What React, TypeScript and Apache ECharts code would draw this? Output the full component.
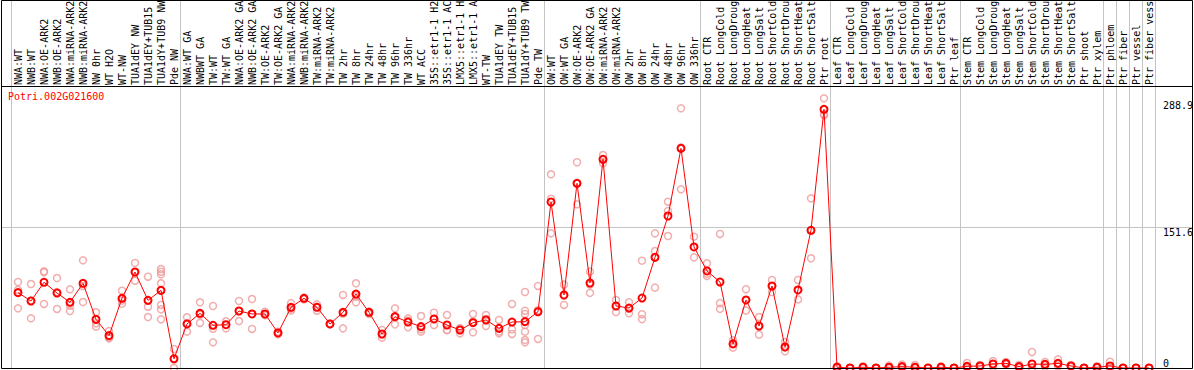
import React, { useEffect, useRef } from "react";
import * as echarts from "echarts";

const geneId = "Potri.002G021600";

const categories = [
  "NWA:WT", "NWB:WT", "NWA:OE-ARK2", "NWB:OE-ARK2", "NWA:miRNA-ARK2", "NWB:miRNA-ARK2",
  "NW 0hr", "WT H2O", "WT-NW", "TUA1dEY NW", "TUA1dEY+TUB15 NW", "TUA1dY+TUB9 NW", "Pde NW",
  "NWA:WT GA", "NWBWT GA", "TW:WT", "TW:WT GA", "NWA:OE-ARK2 GA", "NWB:OE-ARK2 GA",
  "TW:OE-ARK2", "TW:OE-ARK2 GA", "NWA:miRNA-ARK2", "NWB:miRNA-ARK2", "TW:miRNA-ARK2",
  "TW:miRNA-ARK2", "TW 2hr", "TW 8hr", "TW 24hr", "TW 48hr", "TW 96hr", "TW 336hr", "WT ACC",
  "35S::etr1-1 H2O", "35S::etr1-1 ACC", "LMX5::etr1-1 H2O", "LMX5::etr1-1 ACC", "WT-TW",
  "TUA1dEY TW", "TUA1dEY+TUB15 TW", "TUA1dY+TUB9 TW", "Pde TW",
  "OW:WT", "OW:WT GA", "OW:OE-ARK2", "OW:OE-ARK2 GA", "OW:miRNA-ARK2", "OW:miRNA-ARK2",
  "OW 2hr", "OW 8hr", "OW 24hr", "OW 48hr", "OW 96hr", "OW 336hr",
  "Root CTR", "Root LongCold", "Root LongDrought", "Root LongHeat", "Root LongSalt",
  "Root ShortCold", "Root ShortDrought", "Root ShortHeat", "Root ShortSalt", "Ptr root",
  "Leaf CTR", "Leaf LongCold", "Leaf LongDrought", "Leaf LongHeat", "Leaf LongSalt",
  "Leaf ShortCold", "Leaf ShortDrought", "Leaf ShortHeat", "Leaf ShortSalt", "Ptr leaf",
  "Stem CTR", "Stem LongCold", "Stem LongDrought", "Stem LongHeat", "Stem LongSalt",
  "Stem ShortCold", "Stem ShortDrought", "Stem ShortHeat", "Stem ShortSalt", "Ptr shoot",
  "Ptr xylem", "Ptr phloem", "Ptr fiber", "Ptr vessel", "Ptr fiber vessel",
];

// indices where a new sample group starts (group separators)
const groupBreaks = [0, 13, 41, 53, 63, 73, 84, 85, 86, 87, 88];

const meanValues = [
  81.3, 72.3, 92.5, 80.9, 70.9, 91.4, 52.5, 34.9, 75.2, 103.6, 73.0, 83.8, 10.0,
  47.5, 59.0, 46.1, 46.7, 61.5, 58.3, 58.3, 37.8, 65.5, 75.2, 65.5, 47.5, 60.1, 79.8, 60.1,
  36.7, 55.4, 49.6, 44.6, 52.9, 46.4, 41.0, 48.9, 51.8, 42.8, 49.6, 50.0, 60.7,
  179.1, 78.8, 199.3, 91.7, 225.2, 66.9, 64.7, 75.5, 119.4, 164.0, 237.0, 130.6,
  104.7, 92.8, 26.0, 73.4, 45.3, 88.5, 22.7, 84.2, 148.6, 279.1,
  0.8, 0, 0.8, 0, 0.8, 1.5, 0.8, 0, 0.8, 0,
  1.8, 2.2, 4.3, 5.0, 1.5, 4.3, 3.9, 5.0, 2.2, 0, 0.8, 2.2, 0, 0, 0,
];

const replicateValues = [
  [92.8, 84.2, 64.4], [90.6, 72.7, 53.6], [104.3, 103.3, 69.1], [97.1, 82.0, 63.7],
  [84.9, 67.2, 61.5], [116.2, 88.5, 71.2], [60.1, 48.2, 44.6], [39.9, 32.8, 32.0],
  [83.4, 72.8, 69.4], [113.3, 103.3, 94.2], [98.5, 66.1, 55.0],
  [106.8, 103.9, 101.1, 91.4, 68.0, 63.3, 52.5], [20.5, 9.5, 0],
  [54.7, 48.6, 39.2], [70.9, 57.5, 48.6], [66.9, 42.4, 27.7], [50.4, 46.9, 42.8],
  [72.3, 61.5, 50.7], [74.4, 58.4, 42.1], [60.7, 57.1, 57.1], [39.2, 37.8, 36.4],
  [70, 64, 62], [76, 75, 74], [68.7, 66, 61.8], [48, 47.5, 47], [78.8, 58.7, 42.8],
  [91.4, 77, 70.9], [61, 60, 58.3], [41.0, 36.4, 32.7], [64.4, 54.7, 47.1],
  [53.6, 51.3, 43.9], [56.1, 41.8, 39.2], [59.7, 52.6, 46.4], [57.2, 41.0, 41.0],
  [42.8, 42.8, 37.4], [58.3, 49.9, 38.5], [57.2, 52.9, 45.3], [51.8, 39.2, 37.4],
  [69.1, 41.8, 36.7], [82.0, 61.8, 58.3, 46.4, 39.2, 30.2, 27.7], [88.5, 62.3, 31.3],
  [209.0, 182.7, 145.3], [90, 78, 68], [222.0, 199.3, 176.6], [104, 90, 81],
  [229.8, 225, 220.9], [73.4, 67, 60.4], [71, 64, 59], [115.8, 58, 52.7],
  [145.3, 126.2, 86.7], [179.4, 169.4, 142.4], [280.2, 238, 192.8], [141.7, 130.7, 119.4],
  [113.0, 101.8, 99.3], [144.6, 70, 63.8], [30, 26, 22], [85, 73, 62], [55, 45, 36],
  [95, 88, 82], [28, 22, 18], [95, 84, 74], [183.1, 148.6, 118.4], [291.0, 273.7, 272.6],
  [1.9, 0.5, 0], [0, 0, 0], [1.9, 0.5, 0], [0, 0, 0], [2.6, 0, 0], [3.8, 0.7, 0],
  [3.2, 0, 0], [0, 0, 0], [1.9, 0.5, 0], [0, 0, 0],
  [5.4, 0, 0], [3.2, 2.2, 1.2], [7.5, 4.3, 1.1], [6.5, 5.0, 3.5], [3.2, 1.5, 0],
  [17.3, 0, 0], [6.5, 3.9, 1.3], [9.3, 4.0, 1.7], [3.2, 2.2, 1.2], [0, 0, 0],
  [1.9, 0.5, 0], [6.8, 0, 0], [0, 0, 0], [0, 0, 0], [0, 0, 0],
];

const yTickLabels = ["0", "151.6", "288.9"];
const yMax = 303.2;

const GRID_LEFT = 11.5;
const SLOT = 13;
const GRID_TOP = 87;
const GRID_BOTTOM = 368;
const FONT = "DejaVu Sans Mono";

export default function App() {
  const ref = useRef<HTMLDivElement>(null);

  useEffect(() => {
    document.body.style.margin = "0";
    if (!ref.current) return;
    const chart = echarts.init(ref.current, undefined, { renderer: "svg" });

    const scatterData: [number, number][] = [];
    replicateValues.forEach((reps, i) => reps.forEach((v) => scatterData.push([i, v])));

    const gridWidth = SLOT * categories.length;
    const sepLines = groupBreaks.map((k) => ({
      type: "line",
      z: 0,
      silent: true,
      shape: { x1: GRID_LEFT + SLOT * k, y1: 0, x2: GRID_LEFT + SLOT * k, y2: GRID_BOTTOM },
      style: { stroke: "#c4c4c4", lineWidth: 1 },
    }));

    const near = (a: number, b: number) => Math.abs(a - b) < 0.01;
    const yBase = {
      type: "value",
      min: 0,
      max: yMax,
      position: "right",
      axisLine: { show: false },
      axisTick: { show: false },
      splitLine: { show: false },
    };
    const lblBase = { margin: 7.5, fontFamily: FONT, fontSize: 10, color: "#000" };

    chart.setOption({
      animation: false,
      backgroundColor: "#fff",
      title: {
        text: geneId,
        left: 8,
        top: 91,
        padding: 0,
        textStyle: { color: "#ff0000", fontSize: 10, fontFamily: FONT, fontWeight: "normal" },
      },
      grid: [
        {
          left: GRID_LEFT,
          width: gridWidth,
          top: GRID_TOP,
          height: GRID_BOTTOM - GRID_TOP,
          containLabel: false,
          outerBoundsMode: "none",
        },
        {
          left: 1,
          right: 1,
          top: GRID_TOP,
          height: GRID_BOTTOM - GRID_TOP,
          containLabel: false,
          outerBoundsMode: "none",
        },
      ],
      xAxis: [
        {
          type: "category",
          gridIndex: 0,
          data: categories,
          position: "top",
          boundaryGap: true,
          axisLine: { show: false },
          axisTick: { show: false },
          splitLine: { show: false },
          axisLabel: {
            interval: 0,
            rotate: 90,
            margin: 2,
            hideOverlap: false,
            width: 88,
            overflow: "truncate",
            ellipsis: "",
            fontFamily: FONT,
            fontSize: 10,
            color: "#000",
          },
        },
        { type: "value", gridIndex: 1, min: 0, max: 1, show: false },
      ],
      yAxis: [
        {
          ...yBase,
          gridIndex: 0,
          interval: 151.6,
          axisLabel: {
            ...lblBase,
            verticalAlign: "top",
            formatter: (v: number) => (near(v, 151.6) ? yTickLabels[1] : ""),
          },
        },
        {
          ...yBase,
          gridIndex: 0,
          interval: 288.9,
          axisLabel: {
            ...lblBase,
            verticalAlign: "top",
            formatter: (v: number) => (near(v, 288.9) ? yTickLabels[2] : ""),
          },
        },
        {
          ...yBase,
          gridIndex: 0,
          interval: 151.6,
          axisLabel: {
            ...lblBase,
            verticalAlign: "bottom",
            formatter: (v: number) => (near(v, 0) ? yTickLabels[0] : ""),
          },
        },
        {
          type: "value",
          gridIndex: 1,
          min: 0,
          max: yMax,
          interval: 151.6,
          axisLine: { show: false },
          axisTick: { show: false },
          axisLabel: { show: false },
          splitLine: {
            show: true,
            lineStyle: { color: ["rgba(0,0,0,0)", "#c4c4c4", "rgba(0,0,0,0)"], width: 1 },
          },
        },
      ],
      graphic: [
        ...sepLines,
        {
          type: "line",
          z: 100,
          silent: true,
          shape: { x1: 1, y1: 86.5, x2: 1193, y2: 86.5 },
          style: { stroke: "#000", lineWidth: 1 },
        },
        {
          type: "rect",
          z: 100,
          silent: true,
          shape: { x: 1.5, y: 0.5, width: 1191, height: 368 },
          style: { fill: "none", stroke: "#000", lineWidth: 1 },
        },
      ],
      series: [
        {
          type: "scatter",
          xAxisIndex: 0,
          yAxisIndex: 0,
          data: scatterData,
          symbol: "circle",
          symbolSize: 7,
          z: 2,
          itemStyle: { color: "rgba(0,0,0,0)", borderColor: "#ee9a9a", borderWidth: 1.5 },
        },
        {
          type: "line",
          xAxisIndex: 0,
          yAxisIndex: 0,
          data: meanValues,
          symbol: "circle",
          symbolSize: 7,
          showAllSymbol: true,
          z: 3,
          lineStyle: { color: "#ff0000", width: 1 },
          itemStyle: { color: "rgba(0,0,0,0)", borderColor: "#ff0000", borderWidth: 2 },
        },
      ],
    });

    return () => chart.dispose();
  }, []);

  return <div ref={ref} style={{ width: 1194, height: 370 }} />;
}
